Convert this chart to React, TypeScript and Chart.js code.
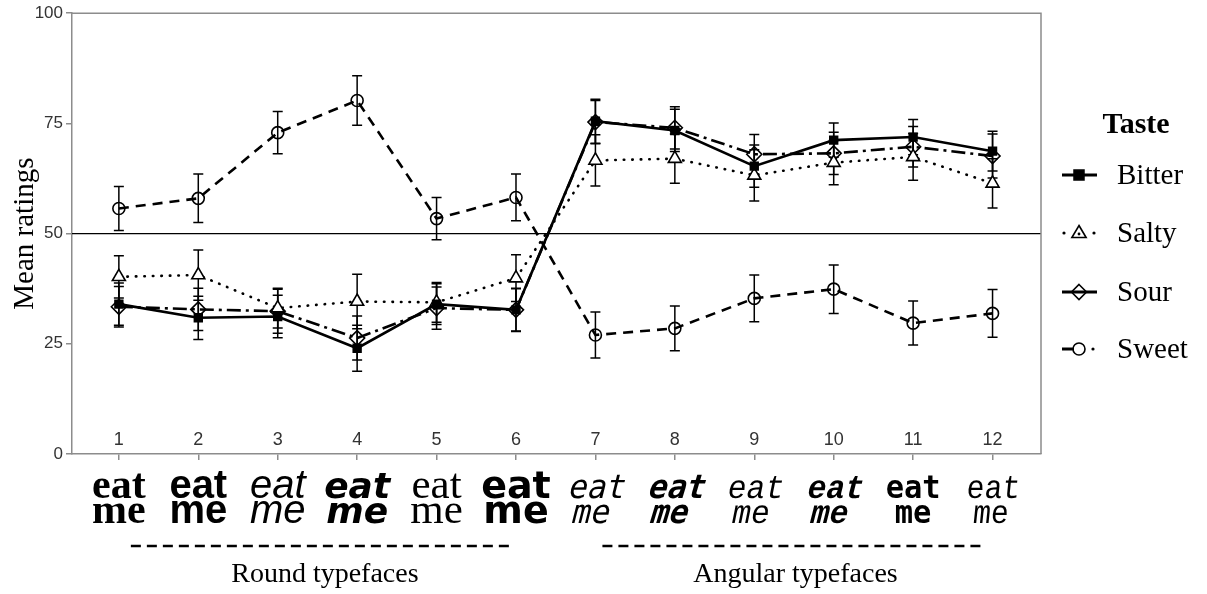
import React, { useEffect, useRef } from "react";
import { Chart, registerables } from "chart.js";

Chart.register(...registerables);

// ---------- data ----------
const categories = [1, 2, 3, 4, 5, 6, 7, 8, 9, 10, 11, 12];
const tickLabels = ["1", "2", "3", "4", "5", "6", "7", "8", "9", "10", "11", "12"];
const yTicks = [0, 25, 50, 75, 100];

const bitter = [34.0, 30.9, 31.2, 24.0, 34.0, 32.7, 75.5, 73.4, 65.3, 71.2, 71.9, 68.7];
const bitterErr = [4.8, 4.9, 4.8, 5.2, 4.6, 4.9, 5.0, 4.8, 4.8, 3.9, 4.0, 4.5];
const salty = [40.2, 40.6, 33.1, 34.6, 34.4, 39.9, 66.6, 67.0, 63.2, 66.1, 67.4, 61.4];
const saltyErr = [4.8, 5.7, 4.5, 6.2, 4.5, 5.3, 5.8, 5.6, 5.8, 5.0, 5.3, 5.6];
const sour = [33.4, 32.8, 32.4, 26.3, 33.1, 32.7, 75.3, 74.0, 68.0, 68.2, 69.7, 67.6];
const sourErr = [4.6, 4.8, 5.0, 5.0, 4.8, 4.8, 4.9, 4.8, 4.5, 4.8, 4.6, 5.0];
const sweet = [55.7, 58.0, 72.9, 80.2, 53.4, 58.2, 27.0, 28.5, 35.3, 37.4, 29.7, 31.9];
const sweetErr = [5.0, 5.5, 4.8, 5.6, 4.8, 5.3, 5.2, 5.1, 5.3, 5.5, 5.0, 5.4];

const seriesNames = ["Bitter", "Salty", "Sour", "Sweet"];
const groupLabels = ["Round typefaces", "Angular typefaces"];
const wordTop = "eat";
const wordBottom = "me";

// ---------- styles ----------
const SERIF = "'Liberation Serif', 'Times New Roman', serif";
const SANS = "'Liberation Sans', Arial, sans-serif";

const typefaceStyles = [
  { font: `bold 42px ${SERIF}`, skew: 0, sx: 1 },
  { font: `bold 40px ${SANS}`, skew: 0, sx: 1 },
  { font: `italic 40px ${SANS}`, skew: 0, sx: 1 },
  { font: `italic bold 36px 'DejaVu Sans'`, skew: 0, sx: 1 },
  { font: `43px ${SERIF}`, skew: 0, sx: 1 },
  { font: `bold 38px 'DejaVu Sans'`, skew: 0, sx: 1 },
  { font: `33px 'DejaVu Sans Mono'`, skew: -0.25, sx: 0.95 },
  { font: `bold 33px 'DejaVu Sans Mono'`, skew: -0.3, sx: 0.95 },
  { font: `33px 'Liberation Mono'`, skew: -0.2, sx: 0.95 },
  { font: `bold 33px 'Liberation Mono'`, skew: -0.25, sx: 0.95 },
  { font: `bold 32px 'DejaVu Sans Mono'`, skew: 0, sx: 0.95 },
  { font: `33px 'Liberation Mono'`, skew: -0.1, sx: 0.9 },
];

const seriesStyles = [
  { dash: [] as number[], point: "rect", radius: 5.5, fill: "#000", cap: "butt" },
  { dash: [0.5, 8], point: "triangle", radius: 7.5, fill: "#fff", cap: "round" },
  { dash: [14, 5, 3, 5], point: "rectRot", radius: 7.5, fill: "rgba(0,0,0,0)", cap: "butt" },
  { dash: [10, 7], point: "circle", radius: 6, fill: "rgba(0,0,0,0)", cap: "butt" },
];

const seriesValues = [bitter, salty, sour, sweet];
const seriesErrors = [bitterErr, saltyErr, sourErr, sweetErr];

function drawMarker(ctx: CanvasRenderingContext2D, style: string, x: number, y: number, r: number, fill: string) {
  ctx.save();
  ctx.setLineDash([]);
  ctx.lineWidth = 1.6;
  ctx.strokeStyle = "#000";
  ctx.fillStyle = fill;
  ctx.beginPath();
  if (style === "rect") {
    const s = r * 0.9;
    ctx.rect(x - s, y - s, 2 * s, 2 * s);
  } else if (style === "triangle") {
    ctx.moveTo(x, y - r);
    ctx.lineTo(x + r * 0.95, y + r * 0.6);
    ctx.lineTo(x - r * 0.95, y + r * 0.6);
    ctx.closePath();
  } else if (style === "rectRot") {
    ctx.moveTo(x, y - r);
    ctx.lineTo(x + r, y);
    ctx.lineTo(x, y + r);
    ctx.lineTo(x - r, y);
    ctx.closePath();
  } else {
    ctx.arc(x, y, r, 0, Math.PI * 2);
  }
  ctx.fill();
  ctx.stroke();
  ctx.restore();
}

const decorPlugin = {
  id: "decor",
  beforeDatasetsDraw(chart: any) {
    const { ctx, chartArea } = chart;
    const xs = chart.scales.x;
    const ys = chart.scales.y;
    ctx.save();
    // reference line at 50
    ctx.strokeStyle = "#000";
    ctx.lineWidth = 1.2;
    ctx.beginPath();
    const y50 = ys.getPixelForValue(50);
    ctx.moveTo(chartArea.left, y50);
    ctx.lineTo(chartArea.right, y50);
    ctx.stroke();
    // error bars
    ctx.lineWidth = 1.5;
    seriesValues.forEach((vals, si) => {
      const errs = seriesErrors[si];
      vals.forEach((v, i) => {
        const x = xs.getPixelForValue(categories[i]);
        const yt = ys.getPixelForValue(v + errs[i]);
        const yb = ys.getPixelForValue(v - errs[i]);
        ctx.beginPath();
        ctx.moveTo(x, yt);
        ctx.lineTo(x, yb);
        ctx.moveTo(x - 5, yt);
        ctx.lineTo(x + 5, yt);
        ctx.moveTo(x - 5, yb);
        ctx.lineTo(x + 5, yb);
        ctx.stroke();
      });
    });
    ctx.restore();
  },
  afterDraw(chart: any) {
    const { ctx, chartArea } = chart;
    const xs = chart.scales.x;
    ctx.save();
    // frame top and right
    ctx.strokeStyle = "#8c8c8c";
    ctx.lineWidth = 1.5;
    ctx.beginPath();
    ctx.moveTo(chartArea.left, chartArea.top);
    ctx.lineTo(chartArea.right, chartArea.top);
    ctx.lineTo(chartArea.right, chartArea.bottom);
    ctx.stroke();

    // typeface samples
    ctx.fillStyle = "#000";
    ctx.textAlign = "center";
    ctx.textBaseline = "alphabetic";
    categories.forEach((c, i) => {
      const st = typefaceStyles[i];
      const x = xs.getPixelForValue(c);
      ctx.save();
      ctx.font = st.font;
      ctx.translate(x, 498);
      ctx.transform(st.sx, 0, st.skew, 1, 0, 0);
      ctx.fillText(wordTop, 0, 0);
      ctx.fillText(wordBottom, 0, 25);
      ctx.restore();
    });

    // group dashed lines + labels
    const groups = [
      [xs.getPixelForValue(1) + 12, xs.getPixelForValue(6) - 3],
      [xs.getPixelForValue(7) + 7, xs.getPixelForValue(12) - 10],
    ];
    groups.forEach(([a, b], gi) => {
      ctx.save();
      ctx.strokeStyle = "#000";
      ctx.lineWidth = 2.5;
      ctx.setLineDash([10, 6]);
      ctx.beginPath();
      ctx.moveTo(a, 546);
      ctx.lineTo(b, 546);
      ctx.stroke();
      ctx.restore();
      ctx.font = `28px ${SERIF}`;
      ctx.textAlign = "center";
      ctx.fillText(groupLabels[gi], (a + b) / 2 + 3, 582);
    });

    // legend
    ctx.textAlign = "center";
    ctx.font = `bold 30px ${SERIF}`;
    ctx.fillText("Taste", 1136, 133);
    const legendY = [175, 233, 292, 349];
    seriesNames.forEach((name, si) => {
      const st = seriesStyles[si];
      const y = legendY[si];
      ctx.save();
      ctx.strokeStyle = "#000";
      ctx.lineWidth = 3;
      ctx.lineCap = st.cap as CanvasLineCap;
      if (si === 0 || si === 2) {
        ctx.beginPath();
        ctx.moveTo(1062, y);
        ctx.lineTo(1097, y);
        ctx.stroke();
      } else if (si === 1) {
        ctx.fillStyle = "#000";
        [1064, 1094].forEach((px) => {
          ctx.beginPath();
          ctx.arc(px, y, 1.6, 0, Math.PI * 2);
          ctx.fill();
        });
      } else {
        ctx.beginPath();
        ctx.moveTo(1062, y);
        ctx.lineTo(1074, y);
        ctx.stroke();
        ctx.fillStyle = "#000";
        ctx.beginPath();
        ctx.arc(1093, y, 1.6, 0, Math.PI * 2);
        ctx.fill();
      }
      ctx.restore();
      drawMarker(ctx, st.point, 1079, y, st.radius, st.fill);
      if (si === 1) {
        ctx.beginPath();
        ctx.arc(1079, y + 1, 1.4, 0, Math.PI * 2);
        ctx.fill();
      }
      ctx.save();
      ctx.textAlign = "left";
      ctx.font = `29px ${SERIF}`;
      ctx.fillStyle = "#000";
      ctx.fillText(name, 1117, y + 9);
      ctx.restore();
    });
    ctx.restore();
  },
};

export default function App() {
  const ref = useRef<HTMLCanvasElement | null>(null);

  useEffect(() => {
    if (!ref.current) return;
    const datasets = seriesNames.map((name, si) => {
      const st = seriesStyles[si];
      return {
        label: name,
        data: categories.map((c, i) => ({ x: c, y: seriesValues[si][i] })),
        borderColor: "#000",
        backgroundColor: st.fill,
        borderWidth: 2.6,
        borderDash: st.dash,
        borderCapStyle: st.cap,
        pointStyle: st.point,
        pointRadius: st.radius,
        pointBackgroundColor: st.fill,
        pointBorderColor: "#000",
        pointBorderWidth: 1.6,
        tension: 0,
        fill: false,
      };
    });

    const chart = new Chart(ref.current, {
      type: "line",
      data: { datasets: datasets as any },
      options: {
        animation: false,
        responsive: false,
        layout: { padding: { top: 13, right: 166, left: 0, bottom: 0 } },
        plugins: {
          legend: { display: false },
          tooltip: { enabled: false },
        },
        scales: {
          x: {
            type: "linear",
            min: 0.41,
            max: 12.61,
            afterBuildTicks: (scale: any) => {
              scale.ticks = categories.map((v) => ({ value: v }));
            },
            afterFit: (scale: any) => {
              scale.height = 140;
            },
            grid: { drawOnChartArea: false, tickLength: 6, color: "#8c8c8c", lineWidth: 1.5 },
            border: { color: "#8c8c8c", width: 1.5 },
            ticks: {
              mirror: true,
              padding: 3,
              color: "#333",
              font: { family: SANS, size: 18 },
              maxRotation: 0,
              autoSkip: false,
              callback: (v: any) => {
                const idx = categories.indexOf(Number(v));
                return idx >= 0 ? tickLabels[idx] : "";
              },
            },
          },
          y: {
            type: "linear",
            min: 0,
            max: 100,
            afterBuildTicks: (scale: any) => {
              scale.ticks = yTicks.map((v) => ({ value: v }));
            },
            afterFit: (scale: any) => {
              scale.width = 72;
            },
            grid: { drawOnChartArea: false, tickLength: 6, color: "#8c8c8c", lineWidth: 1.5 },
            border: { color: "#8c8c8c", width: 1.5 },
            ticks: {
              padding: 3,
              color: "#333",
              font: { family: SANS, size: 17 },
            },
            title: {
              display: true,
              text: "Mean ratings",
              color: "#000",
              font: { family: SERIF, size: 29, weight: "normal" },
              padding: { top: 8, bottom: 0 },
            },
          },
        },
      },
      plugins: [decorPlugin as any],
    });
    return () => chart.destroy();
  }, []);

  return (
    <div style={{ position: "fixed", left: 0, top: 0, width: 1207, height: 594, background: "#fff" }}>
      <canvas ref={ref} width={1207} height={594} style={{ width: 1207, height: 594, display: "block" }} />
    </div>
  );
}
